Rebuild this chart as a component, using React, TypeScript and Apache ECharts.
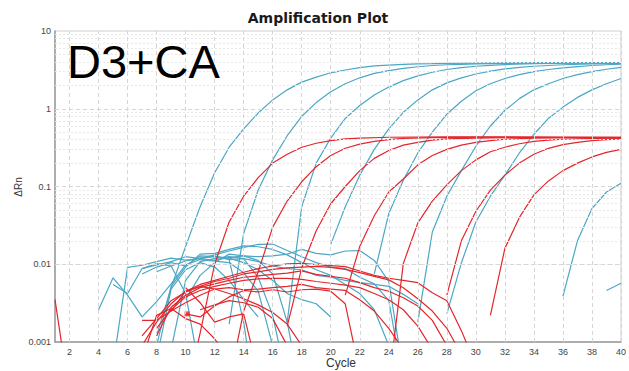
import React, { useEffect, useRef } from "react";
import * as echarts from "echarts";

type P = [number, number][];

const xTicks = [2, 4, 6, 8, 10, 12, 14, 16, 18, 20, 22, 24, 26, 28, 30, 32, 34, 36, 38, 40];
const yTicks = [0.001, 0.01, 0.1, 1, 10];
const yMinorGrid = [0.002, 0.003, 0.004, 0.005, 0.006, 0.007, 0.008, 0.009, 0.02, 0.03, 0.04, 0.05, 0.06, 0.07, 0.08, 0.09, 0.2, 0.3, 0.4, 0.5, 0.6, 0.7, 0.8, 0.9, 2, 3, 4, 5, 6, 7, 8, 9];

// blue wells: amplification part
const blueAmp1: P = [[8, 0.0012], [9, 0.005], [10, 0.017], [11, 0.055], [12, 0.15], [13, 0.32], [14, 0.55], [15, 0.88], [16, 1.3], [17, 1.75], [18, 2.2], [19, 2.55], [20, 2.9], [21, 3.15], [22, 3.38], [23, 3.55], [24, 3.65], [25, 3.72], [26, 3.78], [27, 3.8], [28, 3.83], [30, 3.86], [32, 3.88], [35, 3.9], [40, 3.92]];
const blueAmp2: P = [[13, 0.0017], [14, 0.025], [15, 0.09], [16, 0.22], [17, 0.45], [18, 0.8], [19, 1.2], [20, 1.65], [21, 2.1], [22, 2.5], [23, 2.85], [24, 3.1], [25, 3.3], [26, 3.47], [27, 3.6], [28, 3.68], [29, 3.73], [30, 3.78], [32, 3.84], [35, 3.88], [40, 3.9]];
const blueAmp3: P = [[17, 0.0018], [18, 0.055], [19, 0.2], [20, 0.42], [21, 0.75], [22, 1.1], [23, 1.5], [24, 1.9], [25, 2.3], [26, 2.65], [27, 2.95], [28, 3.2], [29, 3.38], [30, 3.52], [31, 3.62], [32, 3.7], [34, 3.8], [37, 3.86], [40, 3.88]];
const blueAmp4: P = [[20, 0.018], [21, 0.055], [22, 0.14], [23, 0.3], [24, 0.55], [25, 0.9], [26, 1.3], [27, 1.75], [28, 2.15], [29, 2.5], [30, 2.8], [31, 3.05], [32, 3.25], [33, 3.4], [34, 3.52], [35, 3.6], [36, 3.68], [38, 3.77], [40, 3.83]];
const blueAmp5: P = [[23, 0.0075], [24, 0.045], [25, 0.12], [26, 0.27], [27, 0.5], [28, 0.85], [29, 1.25], [30, 1.7], [31, 2.1], [32, 2.45], [33, 2.75], [34, 3.0], [35, 3.2], [36, 3.35], [37, 3.48], [38, 3.6], [39, 3.68], [40, 3.75]];
const blueAmp6: P = [[26, 0.0018], [27, 0.026], [28, 0.075], [29, 0.16], [30, 0.33], [31, 0.6], [32, 0.95], [33, 1.35], [34, 1.75], [35, 2.1], [36, 2.45], [37, 2.75], [38, 3.0], [39, 3.22], [40, 3.4]];
const blueAmp7: P = [[28, 0.0023], [29, 0.0104], [30, 0.035], [31, 0.075], [32, 0.14], [33, 0.27], [34, 0.47], [35, 0.75], [36, 1.05], [37, 1.4], [38, 1.75], [39, 2.1], [40, 2.45]];
const blueAmp8: P = [[36, 0.0039], [37, 0.02], [38, 0.052], [39, 0.085], [40, 0.11]];

// red wells: amplification part
const redAmp1: P = [[10, 0.0002], [11, 0.0013], [12, 0.01], [13, 0.035], [14, 0.075], [15, 0.13], [16, 0.2], [17, 0.26], [18, 0.32], [19, 0.36], [20, 0.39], [21, 0.41], [22, 0.42], [24, 0.43], [28, 0.435], [32, 0.435], [36, 0.43], [40, 0.43]];
const redAmp2: P = [[13, 0.0003], [14, 0.0025], [15, 0.008], [16, 0.03], [17, 0.065], [18, 0.115], [19, 0.18], [20, 0.25], [21, 0.31], [22, 0.35], [23, 0.38], [24, 0.4], [25, 0.415], [27, 0.425], [30, 0.43], [35, 0.43], [40, 0.425]];
const redAmp3: P = [[17, 0.0016], [18, 0.009], [19, 0.027], [20, 0.06], [21, 0.1], [22, 0.16], [23, 0.23], [24, 0.29], [25, 0.34], [26, 0.37], [27, 0.395], [28, 0.41], [30, 0.42], [34, 0.43], [40, 0.43]];
const redAmp4: P = [[21, 0.004], [22, 0.017], [23, 0.042], [24, 0.085], [25, 0.125], [26, 0.19], [27, 0.25], [28, 0.3], [29, 0.34], [30, 0.37], [31, 0.39], [32, 0.405], [34, 0.42], [37, 0.425], [40, 0.425]];
const redAmp5: P = [[24, 0.0003], [25, 0.0102], [26, 0.034], [27, 0.065], [28, 0.105], [29, 0.16], [30, 0.22], [31, 0.28], [32, 0.32], [33, 0.355], [34, 0.38], [35, 0.395], [36, 0.405], [38, 0.415], [40, 0.42]];
const redAmp6: P = [[28, 0.004], [29, 0.02], [30, 0.048], [31, 0.09], [32, 0.14], [33, 0.2], [34, 0.26], [35, 0.31], [36, 0.345], [37, 0.37], [38, 0.39], [39, 0.4], [40, 0.41]];
const redAmp7: P = [[31, 0.0022], [32, 0.016], [33, 0.04], [34, 0.078], [35, 0.118], [36, 0.16], [37, 0.2], [38, 0.24], [39, 0.275], [40, 0.3]];

// blue wells: baseline noise
const blueNoise1: P = [[4, 0.0026], [5, 0.0067], [6, 0.004], [7, 0.0021], [8, 0.0033], [9, 0.0056], [10, 0.0098], [11, 0.0115], [12, 0.011], [13, 0.0105], [14, 0.0078], [15, 0.0045], [16, 0.0009]];
const blueNoise2: P = [[5, 0.0055], [6, 0.0042], [7, 0.0088], [8, 0.0098], [9, 0.0108], [10, 0.0125], [11, 0.0118], [12, 0.0132], [13, 0.0148], [14, 0.0165], [15, 0.018], [16, 0.0182], [17, 0.015], [18, 0.0125], [19, 0.0105], [20, 0.0092], [21, 0.0088], [22, 0.0068], [23, 0.0056], [24, 0.0034], [25, 0.0003]];
const blueNoise3: P = [[5, 0.0005], [6, 0.0091], [7, 0.0097], [8, 0.0108], [9, 0.012], [10, 0.0113], [11, 0.0118], [12, 0.0112], [13, 0.0122], [14, 0.0128], [15, 0.0125], [16, 0.0128], [17, 0.0135], [18, 0.0155], [19, 0.0138], [20, 0.0132], [21, 0.0148], [22, 0.015], [23, 0.0112], [24, 0.006], [25, 0.0004]];
const blueNoise4: P = [[7, 0.0075], [8, 0.0092], [9, 0.0105], [10, 0.0095], [11, 0.0128], [12, 0.0125], [13, 0.0115], [14, 0.0118], [15, 0.0108], [16, 0.0095], [17, 0.0088], [18, 0.0085], [19, 0.0072], [20, 0.0068], [21, 0.0062], [22, 0.0058], [23, 0.0055], [24, 0.0052], [25, 0.0041], [26, 0.0031]];
const blueNoise5: P = [[8, 0.0009], [9, 0.0052], [10, 0.0092], [11, 0.0135], [12, 0.0138], [13, 0.0155], [14, 0.0172], [15, 0.0168], [16, 0.0155], [17, 0.0132], [18, 0.0105], [19, 0.0085], [20, 0.0072], [21, 0.0055], [22, 0.0042], [23, 0.0026], [24, 0.0009]];
const blueNoise6: P = [[8, 0.008], [9, 0.0095], [10, 0.011], [11, 0.012], [12, 0.0125], [13, 0.012], [14, 0.0105], [15, 0.0085], [16, 0.0062], [17, 0.0042], [18, 0.0035], [19, 0.0031], [20, 0.0021]];
const blueNoise7: P = [[8, 0.0006], [9, 0.0048], [10, 0.0085], [11, 0.0105], [12, 0.0092], [13, 0.0062], [14, 0.0035], [15, 0.0021]];
const blueNoise8: P = [[7, 0.0088], [8, 0.0102], [9, 0.0095], [10, 0.0042], [11, 0.0004]];
const blueNoise9: P = [[9, 0.0008], [10, 0.0062], [11, 0.0108], [12, 0.0118], [13, 0.0125], [14, 0.0118], [15, 0.0068], [16, 0.0022], [17, 0.0003]];
const blueNoise10: P = [[10, 0.0035], [11, 0.0072], [12, 0.0105], [13, 0.0135], [14, 0.0128], [15, 0.0112], [16, 0.0075], [17, 0.0018], [18, 0.0002]];
const blueNoise11: P = [[11, 0.012], [12, 0.0128], [13, 0.0115], [14, 0.0018], [15, 0.0001]];
const blueNoise12: P = [[39, 0.0046], [40, 0.0057]];

// red wells: baseline noise
const redNoise1: P = [[7, 0.0009], [8, 0.0018], [9, 0.0031], [10, 0.0045], [11, 0.0055], [12, 0.0062], [13, 0.007], [14, 0.0079], [15, 0.0088], [16, 0.0095], [17, 0.0101], [18, 0.0103], [19, 0.0099], [20, 0.0096], [21, 0.0093], [22, 0.0082], [23, 0.0072], [24, 0.0066], [25, 0.0062], [26, 0.0058], [27, 0.0043], [28, 0.0034], [29, 0.0014], [30, 0.0005]];
const redNoise2: P = [[7, 0.0012], [8, 0.002], [9, 0.0034], [10, 0.0044], [11, 0.0052], [12, 0.006], [13, 0.0066], [14, 0.0075], [15, 0.008], [16, 0.0086], [17, 0.009], [18, 0.0092], [19, 0.0094], [20, 0.0091], [21, 0.0086], [22, 0.0078], [23, 0.007], [24, 0.0063], [25, 0.005], [26, 0.0036], [27, 0.0025], [28, 0.0015], [29, 0.0007]];
const redNoise3: P = [[8, 0.0012], [9, 0.0028], [10, 0.004], [11, 0.005], [12, 0.0056], [13, 0.0062], [14, 0.0068], [15, 0.0071], [16, 0.0074], [17, 0.0077], [18, 0.0082], [19, 0.0074], [20, 0.007], [21, 0.0066], [22, 0.0058], [23, 0.005], [24, 0.0045], [25, 0.0037], [26, 0.0029], [27, 0.0019], [28, 0.0009]];
const redNoise4: P = [[8, 0.0015], [9, 0.0026], [10, 0.0038], [11, 0.0046], [12, 0.0052], [13, 0.0057], [14, 0.0062], [15, 0.0065], [16, 0.0066], [17, 0.0066], [18, 0.0064], [19, 0.006], [20, 0.0057], [21, 0.0054], [22, 0.005], [23, 0.0042], [24, 0.0035], [25, 0.0026], [26, 0.0016], [27, 0.0008]];
const redNoise5: P = [[7, 0.0019], [8, 0.0019], [9, 0.0025], [10, 0.0032], [11, 0.004], [12, 0.0048], [13, 0.005], [14, 0.0047], [15, 0.0048], [16, 0.005], [17, 0.0052], [18, 0.0055], [19, 0.005], [20, 0.0048], [21, 0.0046], [22, 0.0035], [23, 0.0025], [24, 0.0015], [25, 0.0008]];
const redNoise6: P = [[9, 0.0025], [10, 0.0045], [11, 0.0052], [12, 0.0048], [13, 0.0042], [14, 0.0036], [15, 0.003], [16, 0.0024], [17, 0.0017], [18, 0.0009]];
const redNoise7: P = [[10, 0.0023], [11, 0.0021], [12, 0.0029], [13, 0.0038], [14, 0.0046], [15, 0.0044], [16, 0.0047], [17, 0.0044], [18, 0.0047], [19, 0.0048], [20, 0.0045], [21, 0.0031], [22, 0.0004]];
const redNoise8: P = [[10, 0.005], [11, 0.0032], [12, 0.0018], [13, 0.0021], [14, 0.0023], [15, 0.0004]];
const redNoise9: P = [[7, 0.0006], [8, 0.0022], [9, 0.0027], [10, 0.002], [11, 0.0017], [12, 0.0011], [13, 0.0006]];
const redNoise10: P = [[11, 0.0026], [12, 0.003], [13, 0.0034], [14, 0.0032], [15, 0.0028], [16, 0.002], [17, 0.0009]];
const redNoise11: P = [[1, 0.0035], [2, 0.0002]];
const redMarker: P = [[10.1, 0.0023]];

const blueLines = [blueAmp1, blueAmp2, blueAmp3, blueAmp4, blueAmp5, blueAmp6, blueAmp7, blueAmp8, blueNoise1, blueNoise2, blueNoise3, blueNoise4, blueNoise5, blueNoise6, blueNoise7, blueNoise8, blueNoise9, blueNoise10, blueNoise11, blueNoise12];
const redLines = [redAmp1, redAmp2, redAmp3, redAmp4, redAmp5, redAmp6, redAmp7, redNoise1, redNoise2, redNoise3, redNoise4, redNoise5, redNoise6, redNoise7, redNoise8, redNoise9, redNoise10, redNoise11];

const BLUE = "#4ba7c5";
const RED = "#e4262c";
const LABEL_FONT = '"Liberation Sans", Arial, sans-serif';

export default function App() {
  const ref = useRef<HTMLDivElement>(null);
  useEffect(() => {
    if (!ref.current) return;
    const chart = echarts.init(ref.current, null, { renderer: "svg" });
    const lineSeries = (data: P, color: string) => ({
      type: "line",
      data,
      showSymbol: false,
      symbol: "none",
      clip: true,
      silent: true,
      z: 3,
      lineStyle: { color, width: 1.2 },
      emphasis: { disabled: true },
    });
    const series: any[] = [
      {
        type: "line",
        data: [],
        silent: true,
        z: 1,
        markLine: {
          silent: true,
          symbol: ["none", "none"],
          label: { show: false },
          animation: false,
          lineStyle: { color: "#e8e8e8", type: [2, 2], width: 1 },
          data: yMinorGrid.map((v) => ({ yAxis: v })),
        },
      },
      {
        type: "line",
        data: [],
        silent: true,
        z: 1,
        markLine: {
          silent: true,
          symbol: ["none", "none"],
          label: { show: false },
          animation: false,
          lineStyle: { color: "#d6d6d6", type: [4, 3], width: 1 },
          data: [
            ...xTicks.map((v) => ({ xAxis: v })),
            ...yTicks.slice(1, -1).map((v) => ({ yAxis: v })),
          ],
        },
      },
    ];
    blueLines.forEach((d) => series.push(lineSeries(d, BLUE)));
    redLines.forEach((d) => series.push(lineSeries(d, RED)));
    series.push({
      type: "scatter",
      data: redMarker,
      symbol: "rect",
      symbolSize: 5,
      silent: true,
      z: 4,
      itemStyle: { color: RED },
    });

    chart.setOption({
      animation: false,
      grid: {
        left: 55,
        right: 2,
        top: 31,
        bottom: 29,
        show: true,
        borderColor: "#cfcfcf",
        borderWidth: 1,
        backgroundColor: "transparent",
      },
      xAxis: {
        type: "value",
        min: 1,
        max: 40,
        interval: 1,
        axisLine: { show: true, lineStyle: { color: "#9a9a9a", width: 1.5 } },
        axisTick: { show: false },
        splitLine: { show: false },
        axisLabel: {
          fontSize: 9,
          color: "#444",
          fontFamily: LABEL_FONT,
          margin: 5,
          formatter: (v: number) => (xTicks.indexOf(v) >= 0 ? String(v) : ""),
        },
      },
      yAxis: {
        type: "log",
        logBase: 10,
        min: yTicks[0],
        max: yTicks[yTicks.length - 1],
        axisLine: { show: true, lineStyle: { color: "#9a9a9a", width: 1.5 } },
        axisTick: { show: false },
        splitLine: { show: false },
        axisLabel: {
          fontSize: 9,
          color: "#444",
          fontFamily: LABEL_FONT,
          margin: 4,
          formatter: (v: number) => {
            const e = Math.round(Math.log10(v));
            return e < 0 ? Math.pow(10, e).toFixed(-e) : String(Math.pow(10, e));
          },
        },
      },
      graphic: [
        {
          type: "text",
          x: 318,
          y: 18,
          style: {
            text: "Amplification Plot",
            textAlign: "center",
            textVerticalAlign: "middle",
            font: 'bold 14px "DejaVu Sans", Verdana, sans-serif',
            fill: "#1a1a1a",
          },
        },
        {
          type: "text",
          x: 67,
          y: 61.5,
          z: 10,
          style: {
            text: "D3+CA",
            textAlign: "left",
            textVerticalAlign: "middle",
            font: '47px "Liberation Sans", Arial, sans-serif',
            fill: "#000",
          },
        },
        {
          type: "text",
          x: 18,
          y: 187,
          rotation: Math.PI / 2,
          style: {
            text: "ΔRn",
            textAlign: "center",
            textVerticalAlign: "middle",
            font: '10px "Liberation Sans", Arial, sans-serif',
            fill: "#333",
          },
        },
        {
          type: "text",
          x: 341,
          y: 363,
          style: {
            text: "Cycle",
            textAlign: "center",
            textVerticalAlign: "middle",
            font: '12px "Liberation Sans", Arial, sans-serif',
            fill: "#333",
          },
        },
      ],
      series,
    });
    return () => chart.dispose();
  }, []);
  return <div ref={ref} style={{ width: 629, height: 371, position: "absolute", left: 0, top: 0 }} />;
}
